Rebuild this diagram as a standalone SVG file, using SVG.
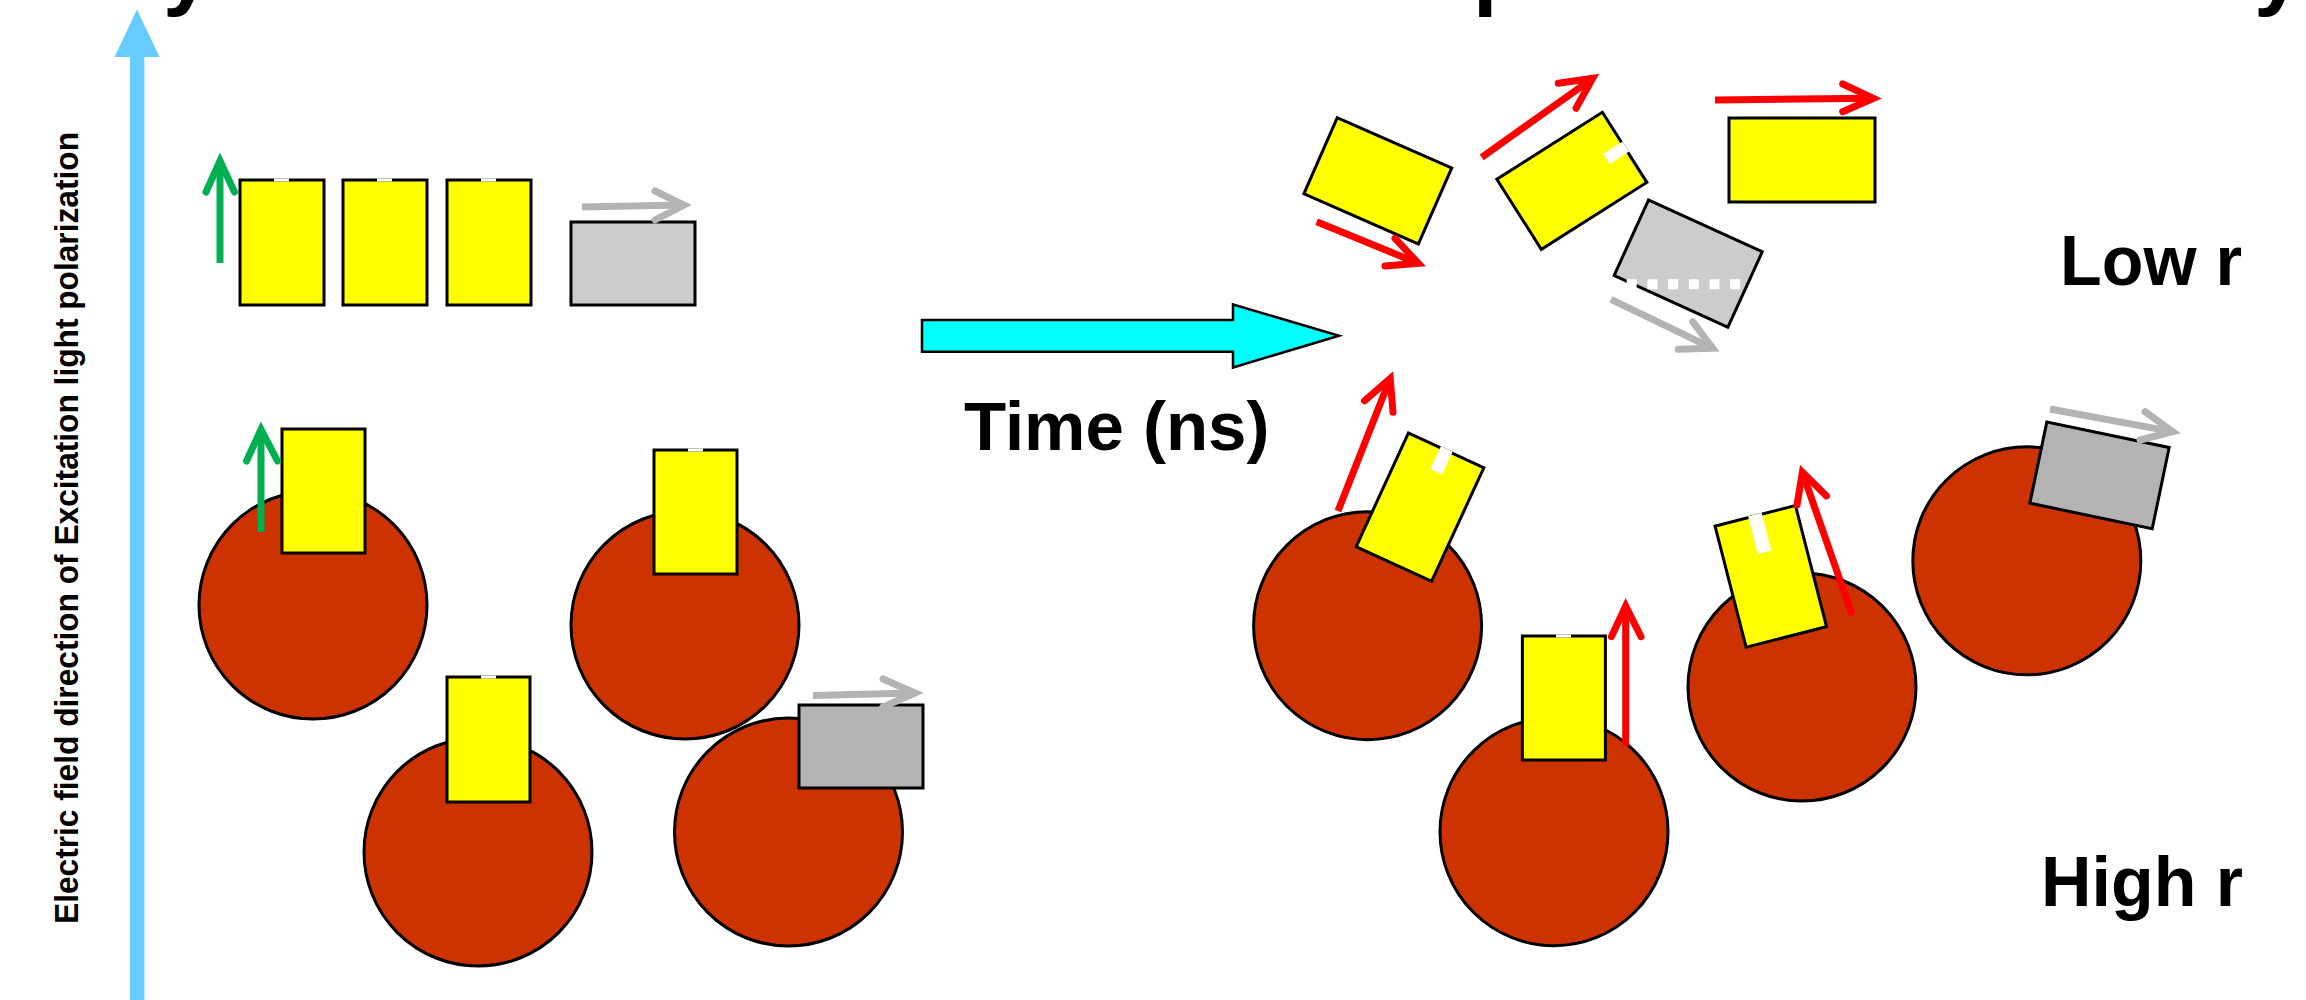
<svg xmlns="http://www.w3.org/2000/svg" width="2306" height="1000" viewBox="0 0 2306 1000">
<style>
.bg{fill:#FFFFFF}
.fl{fill:#FFFF00;stroke:#000;stroke-width:3}
.gl{fill:#CCCCCC;stroke:#000;stroke-width:3}
.gd{fill:#B3B3B3;stroke:#000;stroke-width:3}
.cell{fill:#CC3300;stroke:#000;stroke-width:3}
.notch{fill:#FFFFFF;stroke:none}
.vr{fill:none;stroke:#FF0000;stroke-width:7;stroke-linecap:round;stroke-linejoin:miter;stroke-miterlimit:10}
.vg{fill:none;stroke:#00B050;stroke-width:7;stroke-linecap:round;stroke-linejoin:miter;stroke-miterlimit:10}
.vy{fill:none;stroke:#B3B3B3;stroke-width:7;stroke-linecap:round;stroke-linejoin:miter;stroke-miterlimit:10}
.shaft{stroke-linecap:butt}
.lbl{font-family:"Liberation Sans",Arial,sans-serif;font-weight:bold;fill:#000}
</style>
<rect class="bg" x="0" y="0" width="2306" height="1000"/>

<g id="title">
  <text class="lbl" x="163" y="-1" font-size="88">y</text>
  <text class="lbl" x="1473" y="-1" font-size="88">p</text>
  <text class="lbl" x="2254" y="-1" font-size="88">y</text>
</g>

<g id="axis">
  <rect x="130" y="56" width="14.4" height="944" fill="#66CCFF"/>
  <polygon points="114.5,57 159.5,57 137,9.5" fill="#66CCFF"/>
  <text class="lbl" font-size="34" transform="translate(78,924) rotate(-90)" textLength="792" lengthAdjust="spacingAndGlyphs">Electric field direction of Excitation light polarization</text>
</g>

<g id="free-row">
  <g id="f1">
    <rect class="fl" x="240" y="180" width="84" height="125"/>
    <rect class="notch" x="274" y="178.5" width="15" height="3"/>
  </g>
  <g id="f2">
    <rect class="fl" x="343" y="180" width="84" height="125"/>
    <rect class="notch" x="377" y="178.5" width="15" height="3"/>
  </g>
  <g id="f3">
    <rect class="fl" x="447" y="180" width="84" height="125"/>
    <rect class="notch" x="481" y="178.5" width="15" height="3"/>
  </g>
  <g id="f4">
    <rect class="gl" x="571" y="222" width="124" height="83"/>
  </g>
</g>

<g id="bound-left">
  <g id="c1">
    <circle class="cell" cx="313" cy="605" r="114"/>
    <rect class="fl" x="282" y="429" width="83" height="124"/>
  </g>
  <g id="c2">
    <circle class="cell" cx="478" cy="852" r="114"/>
    <rect class="fl" x="447" y="677" width="83" height="125"/>
    <rect class="notch" x="481" y="675.5" width="15" height="3"/>
  </g>
  <g id="c3">
    <circle class="cell" cx="685" cy="625" r="114"/>
    <rect class="fl" x="654" y="450" width="83" height="124"/>
    <rect class="notch" x="688" y="448.5" width="15" height="3"/>
  </g>
  <g id="c4">
    <circle class="cell" cx="788.5" cy="832" r="114"/>
    <rect class="gd" x="799" y="705" width="124" height="83"/>
  </g>
</g>

<g id="time-arrow">
  <polygon points="922,320 1233,320 1233,304.5 1339,335.7 1233,367.5 1233,351.7 922,351.7" fill="#00FFFF" stroke="#000" stroke-width="2.5"/>
  <text class="lbl" x="964" y="450" font-size="69">Time (ns)</text>
</g>

<g id="free-right">
  <g id="r1">
    <rect class="fl" x="-62.5" y="-41.5" width="125" height="83" transform="translate(1377.8,180.8) rotate(23.7)"/>
  </g>
  <g id="r2">
    <g transform="translate(1571.85,180.8) rotate(-32.4)">
      <rect class="fl" x="-62.5" y="-41.5" width="125" height="83"/>
      <rect class="notch" x="41" y="-6" width="23" height="12"/>
    </g>
  </g>
  <g id="r3">
    <rect class="fl" x="1729" y="118" width="146" height="84"/>
  </g>
  <g id="r4">
    <rect class="gl" x="-62.5" y="-41.5" width="125" height="83" transform="translate(1688.2,263.6) rotate(24.5)"/>
    <line x1="1626.7" y1="284.3" x2="1741" y2="284.3" stroke="#FFFFFF" stroke-width="10" stroke-dasharray="10 10.7"/>
  </g>
</g>

<g id="bound-right">
  <g id="ca">
    <circle class="cell" cx="1367.6" cy="625.7" r="114"/>
    <g transform="translate(1420,507.2) rotate(24.7)">
      <rect class="fl" x="-41.5" y="-62.5" width="83" height="125"/>
      <rect class="notch" x="-6.5" y="-64" width="13" height="25"/>
    </g>
  </g>
  <g id="cb">
    <circle class="cell" cx="1554" cy="831.7" r="114"/>
    <rect class="fl" x="1522.4" y="636" width="83" height="124"/>
    <rect class="notch" x="1556" y="634.5" width="15" height="3"/>
  </g>
  <g id="cc">
    <circle class="cell" cx="1802" cy="687" r="114"/>
    <g transform="translate(1770.8,576.4) rotate(-14.4)">
      <rect class="fl" x="-41.5" y="-62.5" width="83" height="125"/>
      <rect class="notch" x="-7" y="-64" width="14" height="39"/>
    </g>
  </g>
  <g id="cd">
    <circle class="cell" cx="2026.8" cy="560.8" r="114"/>
    <rect class="gd" x="-62.5" y="-41.5" width="125" height="83" transform="translate(2099.5,475.35) rotate(11.8)"/>
  </g>
</g>

<g id="connectors">
  <line class="vg shaft" x1="220" y1="263" x2="220" y2="164"/>
  <polyline class="vg" points="206,192 220,161 234.5,192"/>
  <line class="vg shaft" x1="261" y1="532" x2="261" y2="432"/>
  <polyline class="vg" points="246.5,461 261,429.5 277.5,461"/>
  <line class="vy shaft" x1="582" y1="207" x2="681" y2="205"/>
  <polyline class="vy" points="655,191 684,205 655,220"/>
  <line class="vy shaft" x1="813" y1="695.5" x2="912" y2="693"/>
  <polyline class="vy" points="883,679 915,693 883,707"/>
  <line class="vr shaft" x1="1316.7" y1="221.7" x2="1415" y2="262"/>
  <polyline class="vr" points="1395,238.3 1418.3,263.3 1385,266"/>
  <line class="vr shaft" x1="1481.7" y1="157.3" x2="1590" y2="80.3"/>
  <polyline class="vr" points="1558.3,83.3 1592.7,78.3 1576,108.3"/>
  <line class="vr shaft" x1="1715" y1="100" x2="1870" y2="98.3"/>
  <polyline class="vr" points="1842.7,84 1873.3,98.3 1842.7,111.7"/>
  <line class="vy shaft" x1="1611" y1="299.3" x2="1709.5" y2="346.8"/>
  <polyline class="vy" points="1692.7,321.7 1712.7,348.3 1678.3,349.3"/>
  <line class="vr shaft" x1="1338" y1="511" x2="1389" y2="381.5"/>
  <polyline class="vr" points="1364.5,400.8 1390.2,378.4 1393,412.2"/>
  <line class="vr shaft" x1="1625.7" y1="745.7" x2="1625.7" y2="609"/>
  <polyline class="vr" points="1611.4,636.7 1625.7,606 1641,636.7"/>
  <line class="vr shaft" x1="1852.2" y1="615.1" x2="1803.5" y2="475.5"/>
  <polyline class="vr" points="1797,504.9 1802.4,472.2 1826.5,495.9"/>
  <line class="vy shaft" x1="2050" y1="409" x2="2169.5" y2="431.1"/>
  <polyline class="vy" points="2145,411.7 2172.7,431.7 2140,440"/>
</g>

<g id="labels">
  <text class="lbl" x="2060" y="285" font-size="70" textLength="182" lengthAdjust="spacingAndGlyphs">Low r</text>
  <text class="lbl" x="2041" y="906" font-size="70" textLength="202" lengthAdjust="spacingAndGlyphs">High r</text>
</g>
</svg>
